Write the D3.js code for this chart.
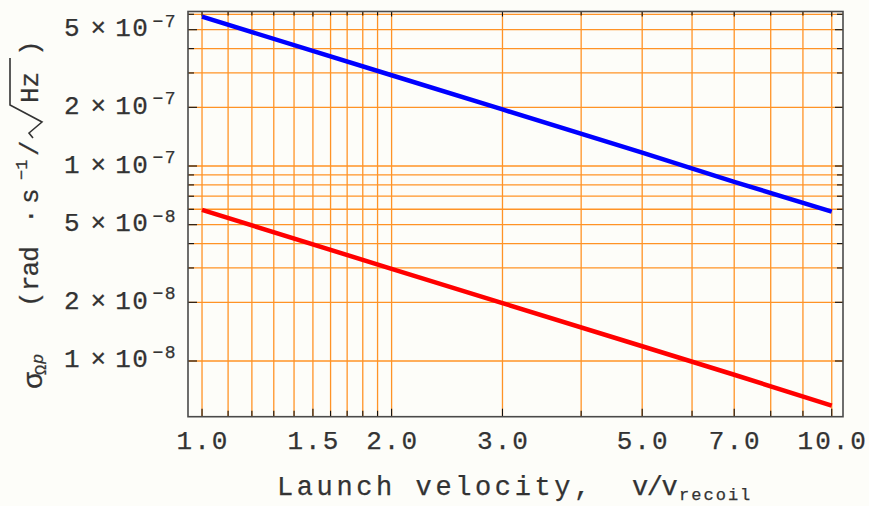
<!DOCTYPE html>
<html>
<head>
<meta charset="utf-8">
<script src="https://cdn.jsdelivr.net/npm/d3@7"></script>
<style>
  html, body { margin: 0; padding: 0; background: #fdfdf9; }
  svg { display: block; }
  text { font-family: "Liberation Mono", "DejaVu Sans Mono", monospace; fill: #333; stroke: #333; stroke-width: 0.25px; }
</style>
</head>
<body>
<div id="chart"></div>
<script>
var width = 869,
    height = 506;

// launch velocity in units of v_recoil
var velocity = [1, 2, 3, 5, 7, 10];
// sigma_Omega_p, rad.s^-1/sqrt(Hz)
var blueSeries = [5.83e-7, 2.92e-7, 1.95e-7, 1.17e-7, 8.3e-8, 5.83e-8];
var redSeries = [5.95e-8, 2.97e-8, 1.98e-8, 1.19e-8, 8.5e-9, 5.9e-9];

// grid / tick positions
var xGrid = [1.0, 1.1, 1.2, 1.3, 1.4, 1.5, 1.6, 1.7, 1.8, 1.9, 2.0, 3, 4, 5, 6, 7, 8, 9, 10];
var xLabels = [1.0, 1.5, 2.0, 3.0, 5.0, 7.0, 10.0];
var yGrid = [1e-8, 2e-8, 3e-8, 4e-8, 5e-8, 6e-8, 7e-8, 8e-8, 9e-8,
             1e-7, 2e-7, 3e-7, 4e-7, 5e-7, 6e-7];
var yLabels = [[5, -8, 5e-8], [2, -8, 2e-8], [1, -8, 1e-8],
               [5, -7, 5e-7], [2, -7, 2e-7], [1, -7, 1e-7]];

// plot frame (window.top is reserved, so use other names)
var pLeft = 188, pRight = 843, pTop = 11.5, pBottom = 416.7;

var x = d3.scaleLog().domain([0.95, 10.42]).range([pLeft, pRight]);
var y = d3.scaleLog().domain([5.18e-9, 6.2e-7]).range([pBottom, pTop]);

var svg = d3.select("#chart").append("svg")
    .attr("width", width)
    .attr("height", height);

svg.append("rect")
    .attr("width", width).attr("height", height)
    .attr("fill", "#fdfdf9");

var plot = svg.append("g");

// orange grid
plot.selectAll(".vgrid")
    .data(xGrid).enter()
    .append("line")
    .attr("class", "vgrid")
    .attr("x1", function(d) { return x(d); })
    .attr("x2", function(d) { return x(d); })
    .attr("y1", pTop).attr("y2", pBottom)
    .attr("stroke", "#ff9326").attr("stroke-width", 1.3);

plot.selectAll(".hgrid")
    .data(yGrid).enter()
    .append("line")
    .attr("class", "hgrid")
    .attr("y1", function(d) { return y(d); })
    .attr("y2", function(d) { return y(d); })
    .attr("x1", pLeft).attr("x2", pRight)
    .attr("stroke", "#ff9326").attr("stroke-width", 1.3);

// ticks on all four sides
var isXMajor = function(d) { return xLabels.indexOf(d) >= 0; };
var isYMajor = function(d) { return yLabels.some(function(l) { return Math.abs(l[2] - d) < d * 1e-6; }); };

plot.selectAll(".xtick-b")
    .data(xGrid).enter().append("line")
    .attr("x1", function(d) { return x(d); })
    .attr("x2", function(d) { return x(d); })
    .attr("y1", pBottom)
    .attr("y2", function(d) { return pBottom - (isXMajor(d) ? 8 : 6); })
    .attr("stroke", "#111").attr("stroke-width", 1.1);

plot.selectAll(".xtick-t")
    .data(xGrid).enter().append("line")
    .attr("x1", function(d) { return x(d); })
    .attr("x2", function(d) { return x(d); })
    .attr("y1", pTop)
    .attr("y2", function(d) { return pTop + (isXMajor(d) ? 5 : 4); })
    .attr("stroke", "#111").attr("stroke-width", 1.1);

plot.selectAll(".ytick-l")
    .data(yGrid).enter().append("line")
    .attr("y1", function(d) { return y(d); })
    .attr("y2", function(d) { return y(d); })
    .attr("x1", pLeft)
    .attr("x2", function(d) { return pLeft + (isYMajor(d) ? 9 : 6); })
    .attr("stroke", "#111").attr("stroke-width", 1.1);

plot.selectAll(".ytick-r")
    .data(yGrid).enter().append("line")
    .attr("y1", function(d) { return y(d); })
    .attr("y2", function(d) { return y(d); })
    .attr("x1", pRight)
    .attr("x2", function(d) { return pRight - (isYMajor(d) ? 8 : 6); })
    .attr("stroke", "#111").attr("stroke-width", 1.1);

// data lines
var line = d3.line()
    .x(function(d) { return x(d[0]); })
    .y(function(d) { return y(d[1]); });

plot.append("path")
    .datum(d3.zip(velocity, blueSeries))
    .attr("d", line)
    .attr("fill", "none")
    .attr("stroke", "#0000ff")
    .attr("stroke-width", 4.5);

plot.append("path")
    .datum(d3.zip(velocity, redSeries))
    .attr("d", line)
    .attr("fill", "none")
    .attr("stroke", "#ff0000")
    .attr("stroke-width", 4.5);

// frame
plot.append("rect")
    .attr("x", pLeft).attr("y", pTop)
    .attr("width", pRight - pLeft).attr("height", pBottom - pTop)
    .attr("fill", "none")
    .attr("stroke", "#4a4a4a").attr("stroke-width", 1.6);

// x tick labels
svg.selectAll(".xlabel")
    .data(xLabels).enter()
    .append("text")
    .attr("class", "xlabel")
    .attr("x", function(d) { return x(d) + 1; })
    .attr("y", 449)
    .attr("text-anchor", "middle")
    .style("font-size", "26px")
    .style("letter-spacing", "2px")
    .text(function(d) { return d.toFixed(1); });

// y tick labels: m x 10^e
var yl = svg.selectAll(".ylabel")
    .data(yLabels).enter()
    .append("text")
    .attr("class", "ylabel")
    .attr("x", 177)
    .attr("y", function(d) { return y(d[2]) + 6.5; })
    .attr("text-anchor", "end")
    .style("font-size", "26px");
yl.append("tspan").text(function(d) { return d[0]; });
yl.append("tspan").attr("dx", 11).text("\u00d7");
yl.append("tspan").attr("dx", 9).style("letter-spacing", "1.5px").text("10");
yl.append("tspan")
    .attr("dx", 3)
    .attr("dy", -9.5)
    .style("font-size", "18px")
    .style("letter-spacing", "1.5px")
    .text(function(d) { return "\u2212" + Math.abs(d[1]); });

// x axis title
var xt = svg.append("text")
    .attr("x", 277)
    .attr("y", 495)
    .style("font-size", "27px")
    .style("letter-spacing", "3.6px");
xt.append("tspan").text("Launch velocity,");
xt.append("tspan").attr("x", 632).style("letter-spacing", "-1.5px").text("v/v");
xt.append("tspan")
    .attr("dy", 5)
    .attr("dx", 3)
    .style("font-size", "17px")
    .style("letter-spacing", "2px")
    .text("recoil");

// y axis title, rotated
var yt = svg.append("g")
    .attr("transform", "translate(38,390) rotate(-90)");
var ytt = yt.append("text")
    .attr("x", 0).attr("y", 0)
    .style("font-size", "26px");
ytt.append("tspan").attr("x", 1).attr("dy", 4).style("font-size", "28px").text("\u03c3");
ytt.append("tspan").attr("x", 15).attr("dy", 4).style("font-size", "17px").text("\u03a9");
ytt.append("tspan").attr("x", 26).attr("dy", -3).style("font-size", "17px").style("font-style", "italic").text("p");
ytt.append("tspan").attr("x", 83).attr("dy", -5).text("(");
ytt.append("tspan").attr("x", 99).style("letter-spacing", "-1px").text("rad");
ytt.append("tspan").attr("x", 166).text("\u00b7");
ytt.append("tspan").attr("x", 186).text("s");
ytt.append("tspan").attr("x", 210).attr("dy", -11).style("font-size", "17px").text("\u22121");
ytt.append("tspan").attr("x", 234).attr("dy", 11).text("/");
ytt.append("tspan").attr("x", 287).style("letter-spacing", "0px").text("Hz");
ytt.append("tspan").attr("x", 334).text(")");
// radical sign with overbar
yt.append("path")
    .attr("d", "M252,-5 L257,-9 L268,4 L285,-28 L332,-28")
    .attr("fill", "none")
    .attr("stroke", "#333")
    .attr("stroke-width", 1.6);
</script>
</body>
</html>
